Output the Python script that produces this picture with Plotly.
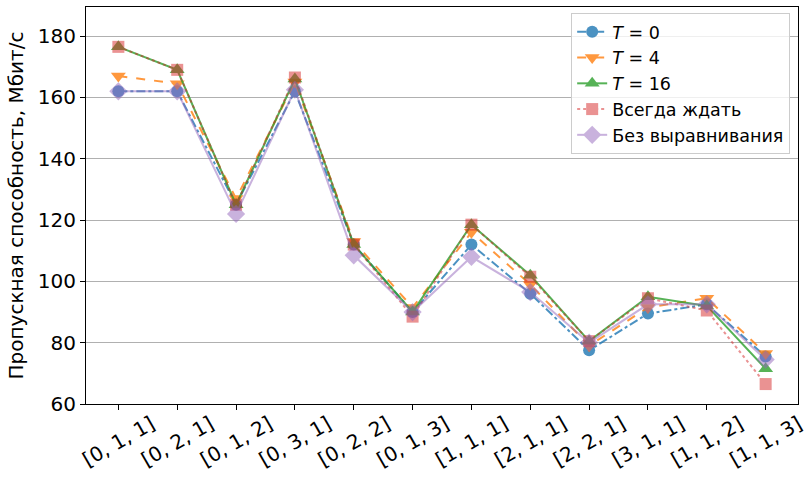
import plotly.graph_objects as go

categories = ["[0, 1, 1]", "[0, 2, 1]", "[0, 1, 2]", "[0, 3, 1]", "[0, 2, 2]", "[0, 1, 3]",
              "[1, 1, 1]", "[2, 1, 1]", "[2, 2, 1]", "[3, 1, 1]", "[1, 1, 2]", "[1, 1, 3]"]

t0 = [162, 162, 125, 162, 112, 90, 112, 96, 77.5, 89.5, 92.5, 75.5]
t4 = [167, 164.5, 127, 165, 113, 91.5, 116, 99, 79, 91.5, 94.5, 76.5]
t16 = [176.5, 169, 125, 166, 112, 90, 118.5, 102, 80.5, 95, 92, 71.5]
always_wait = [176.5, 169, 125, 166.5, 112, 88.5, 118.5, 101.5, 80.5, 94.5, 90.5, 66.5]
no_align = [162, 162, 122, 162.5, 108.5, 90, 108, 96.5, 80, 92.5, 92.5, 74.5]

ylabel = "Пропускная способность, Мбит/с"

x = list(range(len(categories)))

series = [
    ("<i>T</i> = 0", t0, "#1f77b4", "dashdot", "circle", 0.8, 12),
    ("<i>T</i> = 4", t4, "#ff7f0e", "dash", "triangle-down", 0.8, 13),
    ("<i>T</i> = 16", t16, "#2ca02c", "solid", "triangle-up", 0.8, 13),
    ("Всегда ждать", always_wait, "#d62728", "dot", "square", 0.5, 12),
    ("Без выравнивания", no_align, "#9467bd", "solid", "diamond", 0.5, 14),
]

fig = go.Figure()
for name, vals, color, dash, sym, op, ms in series:
    fig.add_trace(go.Scatter(
        x=x, y=vals, name=name, mode="lines+markers",
        line=dict(color=color, dash=dash, width=2),
        marker=dict(symbol=sym, size=ms, color=color),
        opacity=op,
    ))

font_family = "DejaVu Sans"
fig.update_layout(
    width=808, height=477,
    margin=dict(l=86, r=10, t=7, b=73),
    plot_bgcolor="white", paper_bgcolor="white",
    font=dict(family=font_family, color="black", size=20),
    showlegend=True,
    legend=dict(
        x=0.989, y=0.985, xanchor="right", yanchor="top",
        bgcolor="rgba(255,255,255,0.8)", bordercolor="#cccccc", borderwidth=1,
        font=dict(size=17.5, family=font_family),
    ),
)
fig.update_xaxes(
    range=[-0.55, 11.55],
    tickmode="array", tickvals=x, ticktext=categories,
    tickangle=-30, ticks="outside", ticklen=5, tickcolor="black",
    ticklabelshift=33, ticklabelstandoff=-5, ticklabeloverflow="allow",
    showgrid=False, showline=True, linecolor="black", linewidth=1, mirror=True,
    tickfont=dict(size=20), zeroline=False, automargin=False,
)
fig.update_yaxes(
    range=[60, 189.5],
    tickvals=[60, 80, 100, 120, 140, 160, 180],
    ticks="outside", ticklen=5, tickcolor="black",
    showgrid=True, gridcolor="#b0b0b0", gridwidth=1,
    showline=True, linecolor="black", linewidth=1, mirror=True,
    tickfont=dict(size=20), zeroline=False, automargin=False,
    title=dict(text=ylabel, font=dict(size=20), standoff=8),
)

fig.write_html("out.html", config={"displayModeBar": False},
               post_script="document.body.style.margin='0px';")
